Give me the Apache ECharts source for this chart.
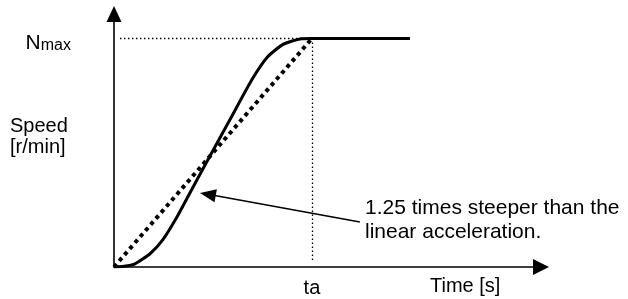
<!DOCTYPE html>
<html>
<head>
<meta charset="utf-8">
<script src="https://cdn.jsdelivr.net/npm/echarts@6/dist/echarts.min.js"></script>
<style>
  html, body { margin: 0; padding: 0; background: #fff; }
  #chart { width: 628px; height: 299px; }
</style>
</head>
<body>
<div id="chart"></div>
<script>
// time normalised to ta = 1, speed normalised to Nmax = 1
const linearAccel = [[0, 0], [1, 1]];
const sCurveAccel = [
  [0, 0], [0.05, 0.003], [0.106, 0.014], [0.182, 0.058], [0.247, 0.12], [0.318, 0.219],
  [0.384, 0.325], [0.5, 0.51], [0.586, 0.645], [0.697, 0.82], [0.773, 0.917],
  [0.854, 0.974], [0.939, 0.998], [1, 1], [1.495, 1]
];
const xTickValues = [1];
const xTickLabels = ["ta"];
const yTickValues = [1];
// arrow head symbol is centred on the end point, so the tip sits ~8px further on
const annotationTip = [0.474, 0.318];
const annotationTail = [1.242, 0.197];

const font = "'Liberation Sans', Arial, sans-serif";
const chart = echarts.init(document.getElementById("chart"));

const option = {
  animation: false,
  grid: { left: 114, right: 87, top: 14, bottom: 32 },
  xAxis: {
    type: "value",
    min: 0,
    max: 2.157,
    splitLine: { show: false },
    axisTick: { show: false },
    axisLine: {
      lineStyle: { color: "#000", width: 1.6 },
      symbol: ["none", "triangle"],
      symbolSize: [16, 16],
    },
    axisLabel: {
      customValues: xTickValues,
      formatter: (v) => xTickLabels[xTickValues.indexOf(v)] || "",
      color: "#000",
      fontFamily: font,
      fontSize: 20,
      margin: 11,
    },
  },
  yAxis: {
    type: "value",
    min: 0,
    max: 1.107,
    splitLine: { show: false },
    axisTick: { show: false },
    axisLine: {
      show: true,
      lineStyle: { color: "#000", width: 1.6 },
      symbol: ["none", "triangle"],
      symbolSize: [15, 16],
    },
    axisLabel: {
      customValues: yTickValues,
      formatter: () => "{n|N}{m|max}",
      margin: 43,
      padding: [10, 0, 0, 0],
      rich: {
        n: { fontFamily: font, fontSize: 21, color: "#000" },
        m: { fontFamily: font, fontSize: 16, color: "#000", padding: [4, 0, 0, 0] },
      },
    },
  },
  series: [
    {
      name: "linear",
      type: "line",
      data: linearAccel,
      symbol: "none",
      lineStyle: { color: "#000", width: 4, type: [4, 4] },
      z: 2,
    },
    {
      name: "s-curve",
      type: "line",
      data: sCurveAccel,
      symbol: "none",
      smooth: 0.2,
      lineStyle: { color: "#000", width: 3 },
      z: 3,
      markLine: {
        silent: true,
        symbol: ["none", "none"],
        label: { show: false },
        lineStyle: { color: "#000", width: 1.3, type: [1.5, 2.5] },
        data: [
          [{ coord: [0.03, 1] }, { coord: [1, 1] }],
          [{ coord: [1, 1] }, { coord: [1, 0.02] }],
          [
            { coord: annotationTail, symbol: "none", lineStyle: { type: "solid", width: 1.6 } },
            { coord: annotationTip, symbol: "triangle", symbolSize: [13, 16], symbolKeepAspect: false },
          ],
        ],
      },
    },
  ],
  graphic: [
    {
      type: "text", left: 10, top: 116,
      style: { text: "Speed\n[r/min]", font: "20px " + font, fill: "#000", lineHeight: 21 },
    },
    {
      type: "text", left: 430, top: 276,
      style: { text: "Time [s]", font: "20px " + font, fill: "#000" },
    },
    {
      type: "text", left: 365, top: 196,
      style: {
        text: "1.25 times steeper than the\nlinear acceleration.",
        font: "21px " + font, fill: "#000", lineHeight: 24,
      },
    },
  ],
};
chart.setOption(option);
</script>
</body>
</html>
